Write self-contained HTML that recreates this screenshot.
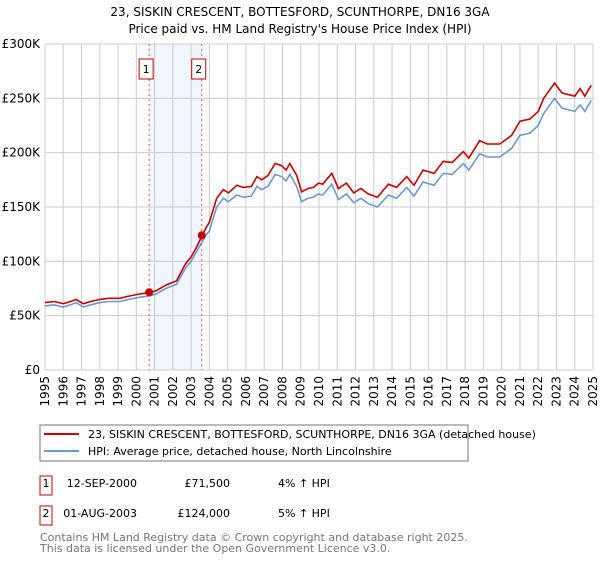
<!DOCTYPE html>
<html><head><meta charset="utf-8"><style>
body{margin:0;background:#fff;font-family:"Liberation Sans","DejaVu Sans",sans-serif;}
svg text{font-family:"DejaVu Sans","Liberation Sans",sans-serif;}
</style></head><body>
<svg id="c" width="600" height="560" viewBox="0 0 600 560">
<text x="300" y="16" text-anchor="middle" font-size="12">23, SISKIN CRESCENT, BOTTESFORD, SCUNTHORPE, DN16 3GA</text>
<text x="300" y="33" text-anchor="middle" font-size="12">Price paid vs. HM Land Registry's House Price Index (HPI)</text>
<g id="grid"></g><g id="series"></g><g id="axes"></g>
<rect x="40" y="425" width="428" height="36" fill="#fff" stroke="#777"/>
<line x1="44" y1="434" x2="79" y2="434" stroke="#cc0000" stroke-width="2"/>
<text x="88" y="438" font-size="11">23, SISKIN CRESCENT, BOTTESFORD, SCUNTHORPE, DN16 3GA (detached house)</text>
<line x1="44" y1="451" x2="79" y2="451" stroke="#6a9ad4" stroke-width="2"/>
<text x="88" y="455" font-size="11">HPI: Average price, detached house, North Lincolnshire</text>
<g>
<rect x="40" y="476" width="12" height="19" fill="#fff" stroke="#cc0000"/>
<text x="46" y="487" font-size="11" text-anchor="middle">1</text>
<text x="137" y="487" font-size="11" text-anchor="end">12-SEP-2000</text>
<text x="230" y="487" font-size="11" text-anchor="end">£71,500</text>
<text x="278" y="487" font-size="11">4% ↑ HPI</text></g>
<g>
<rect x="40" y="506" width="12" height="19" fill="#fff" stroke="#cc0000"/>
<text x="46" y="517" font-size="11" text-anchor="middle">2</text>
<text x="137" y="517" font-size="11" text-anchor="end">01-AUG-2003</text>
<text x="230" y="517" font-size="11" text-anchor="end">£124,000</text>
<text x="278" y="517" font-size="11">5% ↑ HPI</text></g>
<text x="40" y="541" font-size="11" fill="#777">Contains HM Land Registry data © Crown copyright and database right 2025.</text>
<text x="40" y="552" font-size="11" fill="#777">This data is licensed under the Open Government Licence v3.0.</text>
</svg>
<script>
const years=[1995.0,1995.5,1996.0,1996.4,1996.7,1997.1,1997.5,1998.0,1998.5,1999.1,1999.6,2000.2,2000.7,2001.1,2001.6,2002.2,2002.7,2003.0,2003.3,2003.6,2003.85,2004.0,2004.4,2004.76,2005.04,2005.5,2005.86,2006.3,2006.6,2006.86,2007.2,2007.6,2007.96,2008.2,2008.4,2008.78,2009.05,2009.4,2009.7,2009.97,2010.2,2010.7,2011.06,2011.5,2011.9,2012.3,2012.7,2013.2,2013.8,2014.25,2014.8,2015.2,2015.7,2016.3,2016.8,2017.3,2017.9,2018.2,2018.8,2019.2,2019.9,2020.55,2021.0,2021.55,2022.0,2022.3,2022.9,2023.3,2024.0,2024.3,2024.55,2024.9];
const hpi=[59,60,58,60,62,58,60,62,63,63,65,67,68,70,75,79,94,100,109,118,125,128,150,158,155,161,159,160,169,166,169,180,178,174,180,169,155,158,159,162,161,171,157,162,154,158,153,150,161,158,168,160,173,170,181,180,190,184,199,196,196,204,216,218,225,236,250,241,238,244,238,248];
const property=[62,63,61,63,65,61,63,65,66,66,68,70,71,73,78,82,98,104,113,124,132,136,158,166,163,170,168,169,178,175,179,190,188,184,190,179,164,167,168,172,171,181,167,172,163,167,162,159,171,168,178,170,184,181,192,191,201,195,211,208,208,216,229,231,238,250,264,255,252,259,252,262];
const saleYears=[2000.70,2003.58];
const salePrices=[71.5,124];
const saleLabels=["1","2"];
const yTicks=[0,50,100,150,200,250,300];
const yTickLabels=["£0","£50K","£100K","£150K","£200K","£250K","£300K"];
const xTicks=[1995,1996,1997,1998,1999,2000,2001,2002,2003,2004,2005,2006,2007,2008,2009,2010,2011,2012,2013,2014,2015,2016,2017,2018,2019,2020,2021,2022,2023,2024,2025];

const NS="http://www.w3.org/2000/svg";
const X0=45,X1=593,Y0=370,Y1=44;
const xs=y=>X0+(y-1995)/30*(X1-X0);
const ys=v=>Y0-v/300*(Y0-Y1);
function mk(tag,attrs,parent){const e=document.createElementNS(NS,tag);for(const k in attrs)e.setAttribute(k,attrs[k]);parent.appendChild(e);return e;}
const grid=document.getElementById('grid'),series=document.getElementById('series'),axes=document.getElementById('axes');
const shade=mk('rect',{x:xs(saleYears[0]),y:Y1,width:xs(saleYears[1])-xs(saleYears[0]),height:Y0-Y1,fill:'#eef3fc',opacity:0.8},grid);


yTicks.forEach((t,i)=>{
  const l=mk('line',{x1:X0,x2:X1,y1:ys(t),y2:ys(t),stroke:'#cccccc'},grid);
  
  
  const tx=mk('text',{x:X0-5,y:ys(t)+4,'text-anchor':'end','font-size':12},axes);
  tx.textContent=yTickLabels[i];
  
  
});
xTicks.forEach(t=>{
  const l=mk('line',{x1:xs(t),x2:xs(t),y1:Y1,y2:Y0,stroke:'#cccccc'},grid);
  
  
  const px=xs(t)+4, py=Y0+6;
  const tx=mk('text',{x:px,y:py,'text-anchor':'end','font-size':12},axes);
  tx.setAttribute('transform','rotate(-90 '+px.toFixed(1)+' '+py+')');
  tx.textContent=String(t);
  
  
});
saleYears.forEach((y,i)=>{
  const l=mk('line',{x1:xs(y),x2:xs(y),y1:Y1,y2:Y0,stroke:'#ee5555','stroke-dasharray':'2,3'},grid);
  
  
  const r=mk('rect',{x:xs(y)-10,y:59,width:14,height:20,fill:'#fff',stroke:'#cc0000'},axes);
  
  
  const tx=mk('text',{x:xs(y)-3,y:73,'text-anchor':'middle','font-size':11},axes);
  tx.textContent=saleLabels[i];
  
  
});
function path(arr){return arr.map((v,i)=>(i?'L':'M')+xs(years[i]).toFixed(1)+','+ys(v).toFixed(1)).join('');}
const hp=mk('path',{d:path(hpi),fill:'none',stroke:'#6a9ad4','stroke-width':1.6},series);


const pp=mk('path',{d:path(property),fill:'none',stroke:'#cc0000','stroke-width':1.6},series);


saleYears.forEach((y,i)=>{
  const c=mk('circle',{cx:xs(y),cy:ys(salePrices[i]),r:4,fill:'#cc0000'},series);
  
  
});
</script>
</body></html>
